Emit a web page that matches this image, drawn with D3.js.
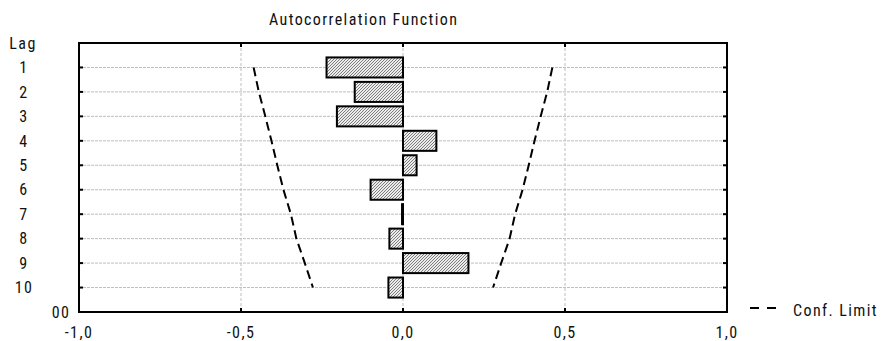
<!DOCTYPE html>
<html>
<head>
<meta charset="utf-8">
<script src="https://cdn.jsdelivr.net/npm/d3@7"></script>
<style>
  html, body { margin: 0; padding: 0; background: #fff; }
  svg text { font-family: "Roboto Condensed", "Liberation Sans", Arial, sans-serif; font-size: 16px; letter-spacing: 1.4px; fill: #111; }
</style>
</head>
<body>
<svg id="chart" width="881" height="341"></svg>
<script>
// Autocorrelation by lag
const lags = [1, 2, 3, 4, 5, 6, 7, 8, 9, 10];
const acf = [-0.236, -0.149, -0.204, 0.103, 0.042, -0.100, -0.003, -0.042, 0.202, -0.045];
// Confidence limit (±) by lag
const confLimit = [0.461, 0.445, 0.425, 0.406, 0.388, 0.369, 0.346, 0.329, 0.303, 0.278];
const xTicks = [-1, -0.5, 0, 0.5, 1];
const xTickLabels = ["-1,0", "-0,5", "0,0", "0,5", "1,0"];

(function () {
const svg = d3.select("#chart");
const pL = 79, pR = 727, pT = 43, pB = 312;

const x = d3.scaleLinear().domain([-1, 1]).range([pL, pR]);
const y = d3.scaleLinear().domain([0, 11]).range([pT, pB]);

// fine pixel hatch fill for the bars
const defs = svg.append("defs");
const pat = defs.append("pattern")
  .attr("id", "hatch").attr("patternUnits", "userSpaceOnUse")
  .attr("width", 3).attr("height", 3);
pat.append("rect").attr("width", 3).attr("height", 3).attr("fill", "#ececec");
[[0, 2], [1, 1], [2, 0]].forEach(([px, py]) => {
  pat.append("rect").attr("x", px).attr("y", py).attr("width", 1).attr("height", 1)
    .attr("fill", "#7c7c7c");
});

// grid
const grid = svg.append("g");
grid.selectAll("line.h").data(lags).join("line")
  .attr("x1", pL).attr("x2", pR)
  .attr("y1", d => y(d)).attr("y2", d => y(d))
  .attr("stroke", "#bdbdbd").attr("stroke-width", 1).attr("stroke-dasharray", "3,1");
grid.selectAll("line.v").data([-0.5, 0, 0.5]).join("line")
  .attr("x1", d => x(d)).attr("x2", d => x(d))
  .attr("y1", pT).attr("y2", pB)
  .attr("stroke", "#bdbdbd").attr("stroke-width", 1).attr("stroke-dasharray", "3,2");

// confidence limits
const confLine = d3.line().x(d => x(d[0])).y(d => y(d[1]));
[-1, 1].forEach(sign => {
  svg.append("path")
    .datum(lags.map((l, i) => [sign * confLimit[i], l]))
    .attr("d", confLine)
    .attr("fill", "none").attr("stroke", "#000").attr("stroke-width", 2)
    .attr("stroke-dasharray", "9,5");
});

// bars
const half = 0.41;
svg.append("g").selectAll("rect").data(lags).join("rect")
  .attr("x", (d, i) => x(Math.min(0, acf[i])))
  .attr("width", (d, i) => Math.abs(x(acf[i]) - x(0)))
  .attr("y", d => y(d - half))
  .attr("height", d => y(d + half) - y(d - half))
  .attr("fill", "url(#hatch)").attr("stroke", "#000").attr("stroke-width", 2);

// frame
svg.append("rect")
  .attr("x", pL).attr("y", pT)
  .attr("width", pR - pL).attr("height", pB - pT)
  .attr("fill", "none").attr("stroke", "#000").attr("stroke-width", 2);

// ticks
const tl = 4;
const ticks = svg.append("g").attr("stroke", "#000").attr("stroke-width", 2);
ticks.selectAll("line.yl").data(lags).join("line")
  .attr("x1", pL).attr("x2", pL + tl).attr("y1", d => y(d)).attr("y2", d => y(d));
ticks.selectAll("line.yr").data(lags).join("line")
  .attr("x1", pR - tl).attr("x2", pR).attr("y1", d => y(d)).attr("y2", d => y(d));
ticks.selectAll("line.xb").data(xTicks).join("line")
  .attr("x1", d => x(d)).attr("x2", d => x(d)).attr("y1", pB - tl).attr("y2", pB);
ticks.selectAll("line.xt").data(xTicks).join("line")
  .attr("x1", d => x(d)).attr("x2", d => x(d)).attr("y1", pT).attr("y2", pT + tl);

// labels
svg.append("text").attr("x", 269).attr("y", 25).text("Autocorrelation Function");
svg.append("text").attr("x", 23).attr("y", 49).attr("text-anchor", "middle").text("Lag");
svg.append("g").selectAll("text").data(lags).join("text")
  .attr("x", 24).attr("y", d => y(d) + 5.7).attr("text-anchor", "middle")
  .text(d => d);
svg.append("text").attr("x", 61).attr("y", 318).attr("text-anchor", "middle").text("00");
svg.append("g").selectAll("text").data(xTicks).join("text")
  .attr("x", d => x(d)).attr("y", 338).attr("text-anchor", "middle")
  .text((d, i) => xTickLabels[i]);

// legend
svg.append("line").attr("x1", 750).attr("x2", 776).attr("y1", 308).attr("y2", 308)
  .attr("stroke", "#000").attr("stroke-width", 2).attr("stroke-dasharray", "9,8");
svg.append("text").attr("x", 793).attr("y", 316).text("Conf. Limit");
})();
</script>
</body>
</html>
